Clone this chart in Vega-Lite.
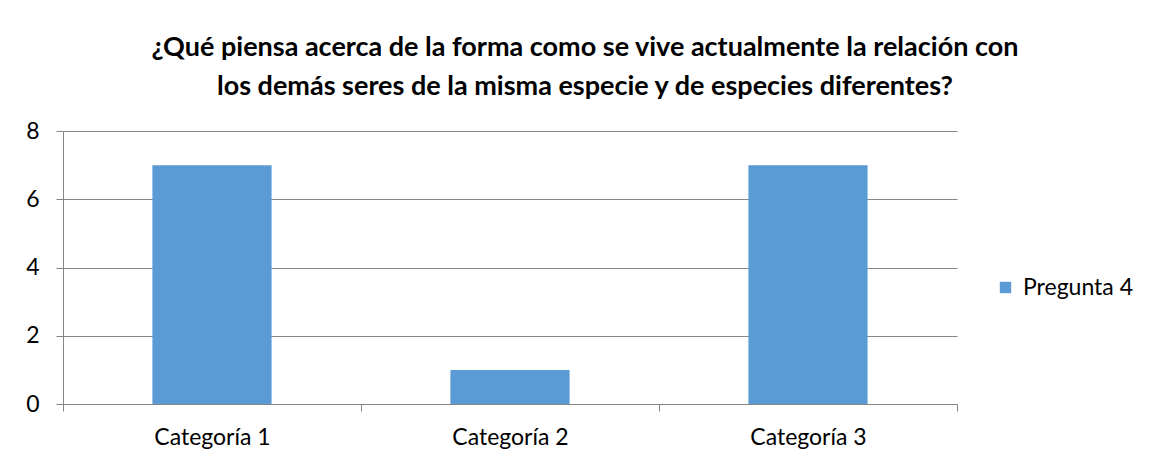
{
  "$schema": "https://vega.github.io/schema/vega-lite/v6.json",
  "width": 894,
  "height": 273,
  "autosize": {"type": "none"},
  "padding": {"left": 63, "top": 131, "right": 205, "bottom": 64},
  "background": "white",
  "config": {"view": {"stroke": null}, "font": "Lato"},
  "title": {
    "text": ["¿Qué piensa acerca de la forma como se vive actualmente la relación con", "los demás seres de la misma especie y de especies diferentes?"],
    "font": "Lato",
    "fontSize": 27,
    "fontWeight": "bold",
    "color": "#000000",
    "anchor": "middle",
    "dx": 75,
    "offset": 19,
    "lineHeight": 39
  },
  "data": {"values": [
    {"categoria": "Categoría 1", "serie": "Pregunta 4", "valor": 7},
    {"categoria": "Categoría 2", "serie": "Pregunta 4", "valor": 1},
    {"categoria": "Categoría 3", "serie": "Pregunta 4", "valor": 7}
  ]},
  "mark": {"type": "bar", "width": {"band": 0.4}},
  "encoding": {
    "x": {
      "field": "categoria", "type": "nominal", "sort": null,
      "scale": {"paddingInner": 0, "paddingOuter": 0},
      "axis": {
        "title": null, "labelAngle": 0, "tickBand": "extent",
        "domainColor": "#868686", "tickColor": "#868686", "tickSize": 7,
        "labelFont": "Lato", "labelFontSize": 23, "labelColor": "#000000",
        "labelPadding": 15, "grid": false
      }
    },
    "y": {
      "field": "valor", "type": "quantitative",
      "scale": {"domain": [0, 8]},
      "axis": {
        "title": null, "values": [0, 2, 4, 6, 8],
        "domainColor": "#868686", "tickColor": "#868686", "tickSize": 7,
        "gridColor": "#868686", "gridWidth": 1,
        "labelFont": "Lato", "labelFontSize": 23, "labelColor": "#000000",
        "labelPadding": 17
      }
    },
    "color": {
      "field": "serie", "type": "nominal",
      "scale": {"range": ["#5B9BD5"]},
      "legend": {
        "title": null, "orient": "none", "legendX": 931, "legendY": 145,
        "symbolType": "square", "symbolSize": 130, "symbolStrokeWidth": 0,
        "labelFont": "Lato", "labelFontSize": 23, "labelColor": "#000000",
        "labelOffset": 6
      }
    }
  }
}
